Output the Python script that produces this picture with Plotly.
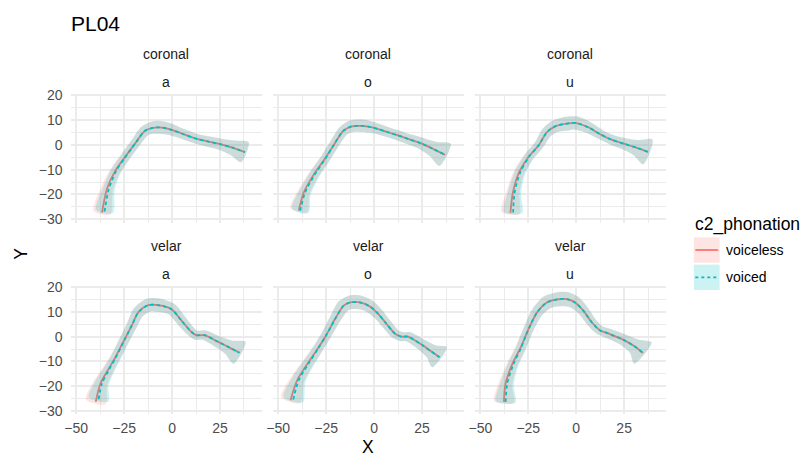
import numpy as np
import plotly.graph_objects as go

# ---------------- data ----------------
places = ["coronal", "velar"]
vowels = ["a", "o", "u"]
phonations = ["voiceless", "voiced"]

# coronal / a
x_cor_a_vl = [-36.5, -34.0, -29.7, -25.0, -19.3, -14.1, -10.0, -7.2, -3.0, 0.2, 6.0, 12.6, 18.5, 25.0, 31.5, 38.0]
y_cor_a_vl = [-27.3, -17.9, -10.6, -5.4, 0.5, 5.7, 6.9, 7.1, 6.7, 6.0, 4.3, 2.5, 1.4, 0.3, -1.1, -2.9]
x_cor_a_vd = [-35.2, -33.0, -29.2, -24.8, -19.3, -14.1, -10.0, -7.2, -3.0, 0.2, 6.0, 12.6, 18.5, 25.0, 31.5, 38.0]
y_cor_a_vd = [-26.9, -17.9, -10.6, -5.4, 0.5, 5.7, 6.9, 7.1, 6.7, 6.0, 4.3, 2.5, 1.4, 0.3, -1.1, -2.9]
se_cor_a = [3.4, 2.4, 2.0, 1.9, 1.9, 2.2, 2.5, 2.6, 2.5, 2.3, 2.0, 2.0, 2.1, 2.3, 3.0, 4.3]

# coronal / o
x_cor_o_vl = [-39.3, -36.7, -31.5, -25.5, -21.2, -16.0, -11.7, -7.4, -3.0, 0.4, 6.5, 12.5, 18.5, 24.9, 31.0, 37.0]
y_cor_o_vl = [-26.4, -19.2, -12.0, -5.4, -0.2, 5.7, 7.5, 7.7, 7.4, 6.8, 5.3, 3.8, 2.2, 0.5, -1.7, -4.0]
x_cor_o_vd = [-38.6, -36.0, -31.0, -25.3, -21.2, -16.0, -11.7, -7.4, -3.0, 0.4, 6.5, 12.5, 18.5, 24.9, 31.0, 37.0]
y_cor_o_vd = [-26.6, -19.2, -12.0, -5.4, -0.2, 5.7, 7.5, 7.7, 7.4, 6.8, 5.3, 3.8, 2.2, 0.5, -1.7, -4.0]
se_cor_o = [3.4, 2.4, 2.0, 1.9, 1.9, 2.1, 2.4, 2.5, 2.4, 2.2, 2.0, 2.0, 2.1, 2.4, 3.2, 5.0]

# coronal / u
x_cor_u_vl = [-34.3, -33.0, -29.9, -24.7, -19.6, -15.3, -11.0, -4.0, 0.0, 6.3, 12.3, 18.4, 24.7, 31.3, 37.4]
y_cor_u_vl = [-27.4, -19.2, -11.3, -4.7, -0.2, 5.1, 7.5, 8.7, 8.8, 7.1, 4.4, 2.1, 0.5, -1.1, -2.8]
x_cor_u_vd = [-32.9, -32.1, -29.3, -24.5, -19.6, -15.3, -11.0, -4.0, 0.0, 6.3, 12.3, 18.4, 24.7, 31.3, 37.4]
y_cor_u_vd = [-27.3, -19.2, -11.3, -4.7, -0.2, 5.1, 7.5, 8.7, 8.8, 7.1, 4.4, 2.1, 0.5, -1.1, -2.8]
se_cor_u = [3.6, 2.6, 2.1, 1.9, 1.9, 2.2, 2.5, 2.8, 2.7, 2.3, 2.0, 2.0, 2.3, 3.2, 5.3]

# velar / a
x_vel_a_vl = [-39.8, -37.4, -33.5, -29.7, -24.5, -21.0, -17.6, -12.4, -7.2, -0.3, 4.9, 10.0, 12.6, 16.9, 23.8, 29.5, 35.2]
y_vel_a_vl = [-26.3, -19.0, -13.5, -8.5, -0.7, 4.5, 9.8, 12.7, 12.7, 11.1, 6.5, 2.0, 0.6, 0.6, -2.0, -4.2, -6.5]
x_vel_a_vd = [-38.3, -36.6, -33.0, -29.4, -24.4, -21.0, -17.6, -12.4, -7.2, -0.3, 4.9, 10.0, 12.6, 16.9, 23.8, 29.5, 35.2]
y_vel_a_vd = [-25.3, -19.0, -13.5, -8.5, -0.7, 4.5, 9.8, 12.7, 12.7, 11.1, 6.5, 2.0, 0.6, 0.6, -2.0, -4.2, -6.5]
se_vel_a = [4.0, 2.8, 2.2, 2.0, 2.0, 2.1, 2.4, 2.7, 2.7, 2.4, 2.1, 1.9, 1.9, 2.0, 2.3, 3.0, 5.0]

# velar / o
x_vel_o_vl = [-43.6, -40.2, -35.0, -29.8, -25.0, -20.3, -16.0, -12.5, -7.4, -2.2, 2.1, 6.4, 10.8, 14.2, 17.6, 24.9, 29.7, 34.1]
y_vel_o_vl = [-25.6, -17.7, -11.2, -5.3, 0.6, 7.2, 12.4, 13.8, 13.8, 12.2, 9.2, 5.2, 1.3, 0.0, 0.0, -3.3, -5.9, -8.3]
x_vel_o_vd = [-42.2, -39.4, -34.5, -29.6, -25.0, -20.3, -16.0, -12.5, -7.4, -2.2, 2.1, 6.4, 10.8, 14.2, 17.6, 24.9, 29.7, 34.1]
y_vel_o_vd = [-25.4, -17.7, -11.2, -5.3, 0.6, 7.2, 12.4, 13.8, 13.8, 12.2, 9.2, 5.2, 1.3, 0.0, 0.0, -3.3, -5.9, -8.3]
se_vel_o = [4.0, 2.8, 2.2, 2.0, 2.0, 2.2, 2.6, 2.8, 2.8, 2.5, 2.2, 2.0, 1.9, 1.9, 2.0, 2.3, 3.0, 5.0]

# velar / u
x_vel_u_vl = [-37.7, -36.9, -33.4, -29.1, -24.7, -20.4, -15.3, -9.2, -4.9, -0.6, 3.7, 8.0, 12.3, 16.7, 24.7, 30.4, 34.8]
y_vel_u_vl = [-26.3, -19.1, -11.2, -4.6, 3.3, 9.8, 13.8, 15.1, 15.1, 13.8, 10.5, 5.9, 2.6, 1.3, -1.3, -3.9, -6.6]
x_vel_u_vd = [-36.8, -36.0, -32.8, -28.8, -24.7, -20.4, -15.3, -9.2, -4.9, -0.6, 3.7, 8.0, 12.3, 16.7, 24.7, 30.4, 34.8]
y_vel_u_vd = [-26.3, -19.1, -11.2, -4.6, 3.3, 9.8, 13.8, 15.1, 15.1, 13.8, 10.5, 5.9, 2.6, 1.3, -1.3, -3.9, -6.6]
se_vel_u = [3.9, 2.7, 2.1, 2.0, 2.0, 2.3, 2.7, 2.9, 2.9, 2.6, 2.2, 2.0, 1.9, 2.0, 2.3, 3.2, 5.5]

x_ticks = [-50, -25, 0, 25]
x_ticktext = ["\u221250", "\u221225", "0", "25"]
y_ticks = [-30, -20, -10, 0, 10, 20]
y_ticktext = ["\u221230", "\u221220", "\u221210", "0", "10", "20"]

panels = [
    ("coronal", "a", (x_cor_a_vl, y_cor_a_vl), (x_cor_a_vd, y_cor_a_vd), se_cor_a),
    ("coronal", "o", (x_cor_o_vl, y_cor_o_vl), (x_cor_o_vd, y_cor_o_vd), se_cor_o),
    ("coronal", "u", (x_cor_u_vl, y_cor_u_vl), (x_cor_u_vd, y_cor_u_vd), se_cor_u),
    ("velar", "a", (x_vel_a_vl, y_vel_a_vl), (x_vel_a_vd, y_vel_a_vd), se_vel_a),
    ("velar", "o", (x_vel_o_vl, y_vel_o_vl), (x_vel_o_vd, y_vel_o_vd), se_vel_o),
    ("velar", "u", (x_vel_u_vl, y_vel_u_vl), (x_vel_u_vd, y_vel_u_vd), se_vel_u),
]

# ---------------- layout geometry ----------------
W, H = 802, 457
FONT = "Liberation Sans, Arial, Helvetica, sans-serif"
RED = "#F8766D"
CYAN = "#00BFC4"
RED_FILL = "rgba(248,118,109,0.2)"
CYAN_FILL = "rgba(0,191,196,0.2)"
GRID = "#EBEBEB"

PANEL_X = [(65.1, 257.9), (268.7, 461.5), (472.3, 665.1)]
PANEL_Y = [(89.0, 221.0), (285.5, 417.5)]
XR = [-52.9, 46.9]
YR = [-31.38, 20.59]
SX = (PANEL_X[0][1] - PANEL_X[0][0]) / (XR[1] - XR[0])
SY = (PANEL_Y[0][1] - PANEL_Y[0][0]) / (YR[1] - YR[0])


def fx(p):
    return p / W


def fy(p):
    return 1 - p / H


def ribbon(xs, ys, se):
    u = np.asarray(xs, float) * SX
    v = np.asarray(ys, float) * SY
    du = np.gradient(u)
    dv = np.gradient(v)
    n = np.hypot(du, dv)
    nx, ny = -dv / n, du / n
    off = np.asarray(se, float) * SY
    xu, yu = (u + nx * off) / SX, (v + ny * off) / SY
    xl, yl = (u - nx * off) / SX, (v - ny * off) / SY
    px_ = np.concatenate([xu, xl[::-1], xu[:1]])
    py_ = np.concatenate([yu, yl[::-1], yu[:1]])
    return px_, py_


fig = go.Figure()
layout = {}
annotations = []

for k, (place, vowel, vl, vd, se) in enumerate(panels):
    row, col = divmod(k, 3)
    sfx = "" if k == 0 else str(k + 1)
    xa, ya = "x" + sfx, "y" + sfx
    for (xs, ys), fill, color, dash in [(vl, RED_FILL, RED, "solid"), (vd, CYAN_FILL, CYAN, "3.5px,3px")]:
        rx, ry = ribbon(xs, ys, se)
        fig.add_trace(go.Scatter(x=rx, y=ry, mode="lines", fill="toself", fillcolor=fill,
                                 line=dict(width=0, color="rgba(0,0,0,0)", shape="spline", smoothing=0.8),
                                 xaxis=xa, yaxis=ya, showlegend=False, hoverinfo="skip"))
        fig.add_trace(go.Scatter(x=xs, y=ys, mode="lines",
                                 line=dict(width=1.8, color=color, dash=dash, shape="spline", smoothing=0.8),
                                 xaxis=xa, yaxis=ya, showlegend=False))
    x0, x1 = PANEL_X[col]
    y0, y1 = PANEL_Y[row]
    layout["xaxis" + sfx] = dict(
        domain=[fx(x0), fx(x1)], range=XR, anchor=ya, tickmode="array",
        tickvals=x_ticks, ticktext=x_ticktext, showticklabels=(row == 1),
        showgrid=True, gridcolor=GRID, gridwidth=1.7, zeroline=False, showline=False, ticks="",
        ticklabelstandoff=4,
        tickfont=dict(family=FONT, size=14, color="#4D4D4D"),
        minor=dict(tickmode="linear", tick0=0, dtick=12.5, showgrid=True, gridcolor=GRID, gridwidth=0.9),
    )
    layout["yaxis" + sfx] = dict(
        domain=[fy(y1), fy(y0)], range=YR, anchor=xa, tickmode="array",
        tickvals=y_ticks, ticktext=y_ticktext, showticklabels=(col == 0),
        showgrid=True, gridcolor=GRID, gridwidth=1.7, zeroline=False, showline=False, ticks="",
        ticklabelstandoff=7,
        tickfont=dict(family=FONT, size=14, color="#4D4D4D"),
        minor=dict(tickmode="linear", tick0=0, dtick=5, showgrid=True, gridcolor=GRID, gridwidth=0.9),
    )
    cx = (x0 + x1) / 2
    base = 196.3 * row
    annotations.append(dict(x=fx(cx), y=fy(48.5 + base), xref="paper", yref="paper", text=place,
                            showarrow=False, xanchor="center", yanchor="middle",
                            font=dict(family=FONT, size=14, color="#1A1A1A")))
    annotations.append(dict(x=fx(cx), y=fy(77 + base), xref="paper", yref="paper", text=vowel,
                            showarrow=False, xanchor="center", yanchor="middle",
                            font=dict(family=FONT, size=14, color="#1A1A1A")))

# titles
annotations.append(dict(x=fx(63.5), y=fy(16.5), xref="paper", yref="paper", text="PL04", showarrow=False,
                        xanchor="left", yanchor="middle", font=dict(family=FONT, size=21, color="#000000")))
annotations.append(dict(x=fx(365), y=fy(451), xref="paper", yref="paper", text="X", showarrow=False,
                        xanchor="center", yanchor="middle", font=dict(family=FONT, size=17.5, color="#000000")))
annotations.append(dict(x=fx(15), y=fy(253), xref="paper", yref="paper", text="Y", showarrow=False,
                        textangle=-90, xanchor="center", yanchor="middle",
                        font=dict(family=FONT, size=17.5, color="#000000")))

# manual legend
shapes = []
annotations.append(dict(x=fx(692), y=fy(223), xref="paper", yref="paper", text="c2_phonation", showarrow=False,
                        xanchor="left", yanchor="middle", font=dict(family=FONT, size=17.5, color="#000000")))
legend_rows = [(phonations[0], RED_FILL, RED, "solid", 236.0), (phonations[1], CYAN_FILL, CYAN, "3px,3px", 264.0)]
for label, fill, color, dash, top in legend_rows:
    shapes.append(dict(type="rect", xref="paper", yref="paper", x0=fx(693), x1=fx(719), y0=fy(top + 26), y1=fy(top),
                       fillcolor=fill, line=dict(width=0), layer="above"))
    shapes.append(dict(type="line", xref="paper", yref="paper", x0=fx(694.5), x1=fx(717.5), y0=fy(top + 13),
                       y1=fy(top + 13), line=dict(color=color, width=1.8, dash=dash), layer="above"))
    annotations.append(dict(x=fx(723), y=fy(top + 13), xref="paper", yref="paper", text=label, showarrow=False,
                            xanchor="left", yanchor="middle", font=dict(family=FONT, size=14, color="#000000")))

fig.update_layout(
    width=W, height=H, margin=dict(l=0, r=0, t=0, b=0),
    paper_bgcolor="white", plot_bgcolor="white", showlegend=False,
    annotations=annotations, shapes=shapes, **layout,
)

fig.write_html("out.html")
